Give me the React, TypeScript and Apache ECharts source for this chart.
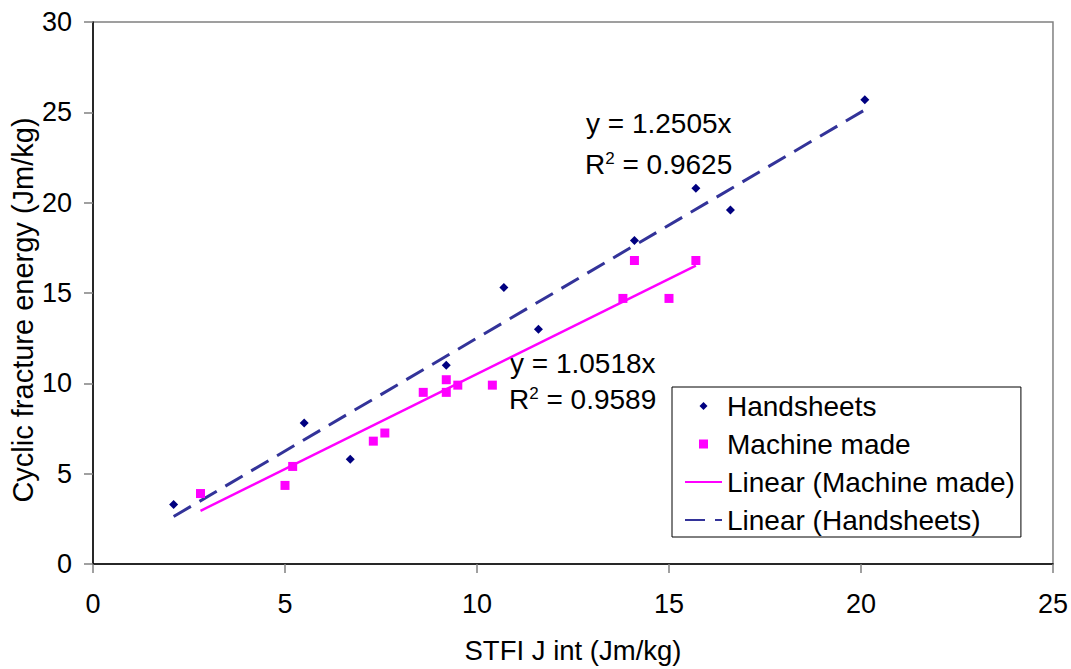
import React, { useEffect, useRef } from "react";
import * as echarts from "echarts";

const handX = [2.1, 5.5, 6.7, 9.2, 10.7, 11.6, 14.1, 15.7, 16.6, 20.1];
const handY = [3.3, 7.8, 5.8, 11.0, 15.3, 13.0, 17.9, 20.8, 19.6, 25.7];
const machX = [2.8, 5.0, 5.2, 7.3, 7.6, 8.6, 9.2, 9.2, 9.5, 10.4, 13.8, 14.1, 15.0, 15.7];
const machY = [3.9, 4.35, 5.4, 6.8, 7.25, 9.5, 9.5, 10.2, 9.9, 9.9, 14.7, 16.8, 14.7, 16.8];
const handSlope = 1.2505;
const handR2 = "0.9625";
const machSlope = 1.0518;
const machR2 = "0.9589";
const xTicks = [0, 5, 10, 15, 20, 25];
const yTicks = [0, 5, 10, 15, 20, 25, 30];

const FONT = "'Liberation Sans', Arial, sans-serif";
const FS = 28;

// legend icons: marker centred in a 37x9 box
const DIAMOND_ICON = "path://M0,4.5L0.01,4.5M14.5,4.5L18.5,0.5L22.5,4.5L18.5,8.5ZM36.99,4.5L37,4.5M18.5,0L18.5,0.01M18.5,9L18.5,8.99";
const SQUARE_ICON = "path://M0,4.5L0.01,4.5M14,0L23,0L23,9L14,9ZM36.99,4.5L37,4.5";

export default function App() {
  const ref = useRef<HTMLDivElement>(null);
  useEffect(() => {
    document.body.style.margin = "0";
    const chart = echarts.init(ref.current!, null, { renderer: "svg" });
    const handPts = handX.map((x, i) => [x, handY[i]]);
    const machPts = machX.map((x, i) => [x, machY[i]]);
    const hMin = Math.min(...handX), hMax = Math.max(...handX);
    const mMin = Math.min(...machX), mMax = Math.max(...machX);
    const handTrend = [[hMin, handSlope * hMin], [hMax, handSlope * hMax]];
    const machTrend = [[mMin, machSlope * mMin], [mMax, machSlope * mMax]];
    const supRich = {
      sup: { fontSize: 17, fontFamily: FONT, fill: "#000", verticalAlign: "top", padding: [0, 0, 8, 0] },
    };
    chart.setOption({
      animation: false,
      textStyle: { fontFamily: FONT },
      grid: {
        left: 93,
        right: 17,
        top: 22,
        bottom: 102.5,
        show: true,
        borderColor: "#808080",
        borderWidth: 1.5,
        backgroundColor: "#fff",
      },
      xAxis: {
        type: "value",
        min: xTicks[0],
        max: xTicks[xTicks.length - 1],
        interval: 5,
        splitLine: { show: false },
        axisLine: { show: true, onZero: false, lineStyle: { color: "#000", width: 1.5 } },
        axisTick: { show: true, length: 9, lineStyle: { color: "#808080", width: 1.5 } },
        axisLabel: { fontSize: 27, color: "#000", margin: 26, fontFamily: FONT },
        name: "STFI J int (Jm/kg)",
        nameLocation: "middle",
        nameGap: 72,
        nameTextStyle: { fontSize: 27.5, color: "#000", fontFamily: FONT },
      },
      yAxis: {
        type: "value",
        min: yTicks[0],
        max: yTicks[yTicks.length - 1],
        interval: 5,
        splitLine: { show: false },
        axisLine: { show: true, onZero: false, lineStyle: { color: "#000", width: 1.5 } },
        axisTick: { show: true, length: 9, lineStyle: { color: "#808080", width: 1.5 } },
        axisLabel: { fontSize: 27, color: "#000", margin: 21, fontFamily: FONT },
      },
      legend: {
        orient: "vertical",
        left: 672,
        top: 387,
        padding: [5, 6, 3, 12],
        borderColor: "#000",
        borderWidth: 1,
        backgroundColor: "#fff",
        itemWidth: 37,
        itemHeight: 9,
        itemGap: 10,
        textStyle: { fontSize: FS, color: "#000", fontFamily: FONT },
        data: [
          { name: "Handsheets", icon: DIAMOND_ICON },
          { name: "Machine made", icon: SQUARE_ICON },
          { name: "Linear (Machine made)" },
          { name: "Linear (Handsheets)" },
        ],
      },
      series: [
        {
          name: "Linear (Machine made)",
          type: "line",
          data: machTrend,
          showSymbol: false,
          symbol: "none",
          lineStyle: { color: "#FF00FF", width: 2.5 },
          itemStyle: { color: "rgba(0,0,0,0)" },
          z: 3,
        },
        {
          name: "Linear (Handsheets)",
          type: "line",
          data: handTrend,
          showSymbol: false,
          symbol: "none",
          lineStyle: { color: "#333399", width: 3, type: [20, 10] },
          itemStyle: { color: "rgba(0,0,0,0)" },
          z: 3,
        },
        {
          name: "Handsheets",
          type: "scatter",
          data: handPts,
          symbol: "diamond",
          symbolSize: 9,
          itemStyle: { color: "#000080", opacity: 1 },
          z: 4,
        },
        {
          name: "Machine made",
          type: "scatter",
          data: machPts,
          symbol: "rect",
          symbolSize: 9,
          itemStyle: { color: "#FF00FF", opacity: 1 },
          z: 4,
        },
      ],
      graphic: [
        {
          type: "text",
          x: 22.5,
          y: 310,
          rotation: Math.PI / 2,
          style: {
            text: "Cyclic fracture energy (Jm/kg)",
            fontSize: 29,
            fontFamily: FONT,
            fill: "#000",
            align: "center",
            verticalAlign: "middle",
          },
        },
        {
          type: "text",
          x: 586,
          y: 123,
          style: { text: `y = ${handSlope.toFixed(4)}x`, fontSize: FS, fontFamily: FONT, fill: "#000", verticalAlign: "middle" },
        },
        {
          type: "text",
          x: 585,
          y: 164,
          style: { text: `R{sup|2} = ${handR2}`, fontSize: FS, fontFamily: FONT, fill: "#000", verticalAlign: "middle", rich: supRich },
        },
        {
          type: "text",
          x: 510,
          y: 363,
          style: { text: `y = ${machSlope.toFixed(4)}x`, fontSize: FS, fontFamily: FONT, fill: "#000", verticalAlign: "middle" },
        },
        {
          type: "text",
          x: 509,
          y: 399,
          style: { text: `R{sup|2} = ${machR2}`, fontSize: FS, fontFamily: FONT, fill: "#000", verticalAlign: "middle", rich: supRich },
        },
      ],
    });
    return () => chart.dispose();
  }, []);
  return <div ref={ref} style={{ width: 1071, height: 669 }} />;
}
